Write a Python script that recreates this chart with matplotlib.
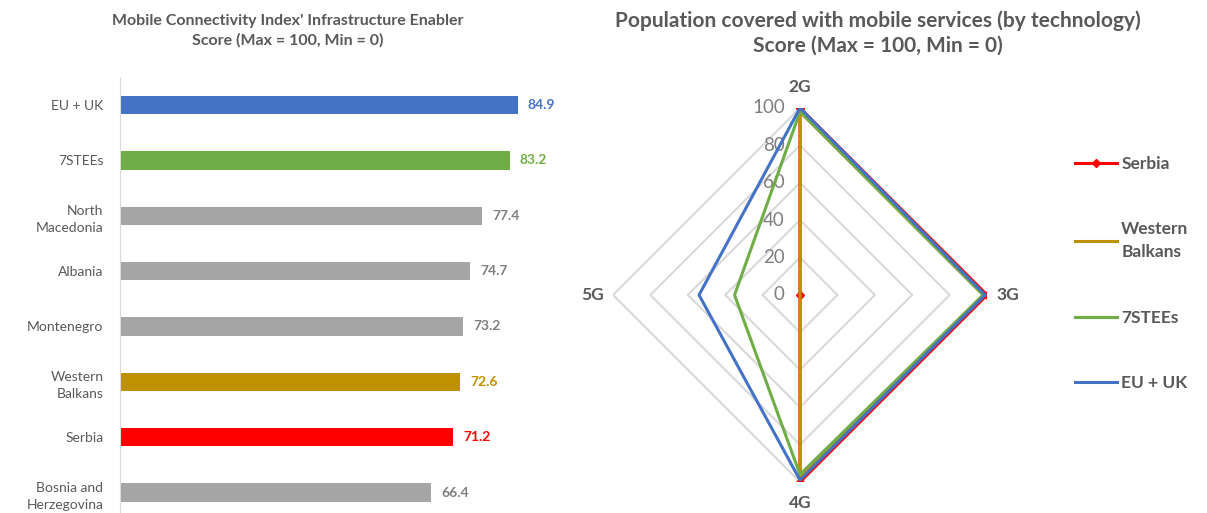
import numpy as np
import matplotlib.pyplot as plt
from matplotlib import transforms

plt.rcParams['font.family'] = ['Lato', 'DejaVu Sans']

# --- left chart data ---
countries = ['EU + UK', '7STEEs', 'North\nMacedonia', 'Albania', 'Montenegro',
             'Western\nBalkans', 'Serbia', 'Bosnia and\nHerzegovina']
scores = [84.9, 83.2, 77.4, 74.7, 73.2, 72.6, 71.2, 66.4]
bar_colors = ['#4472C4', '#70AD47', '#A5A5A5', '#A5A5A5', '#A5A5A5',
              '#BF9000', '#FF0000', '#A5A5A5']
label_colors = ['#4472C4', '#70AD47', '#7F7F7F', '#7F7F7F', '#7F7F7F',
                '#BF9000', '#FF0000', '#7F7F7F']

# --- radar data ---
techs = ['2G', '3G', '4G', '5G']
serbia = [100, 100, 100, 0]
western_balkans = [98, 98, 97, 0]
steees = [98, 98, 96, 35]
eu_uk = [100, 99, 99, 54]
series_names = ['Serbia', 'Western\nBalkans', '7STEEs', 'EU + UK']
series_colors = ['#FF0000', '#BF9000', '#70AD47', '#4472C4']
rticks = [0, 20, 40, 60, 80, 100]

TXT = '#595959'

fig = plt.figure(figsize=(12.07, 5.13), dpi=100)

# ---------------- bar chart ----------------
ax = fig.add_axes([0.0994, 0.0, 0.388, 0.848])
y = np.arange(len(countries))
ax.barh(y, scores, height=0.33, color=bar_colors)
ax.set_xlim(0, 100)
ax.set_ylim(len(countries) - 0.63, -0.49)
ax.set_yticks(y)
ax.set_yticklabels(countries, fontsize=10, color=TXT, linespacing=1.5)
ax.tick_params(axis='y', length=0, pad=12)
ax.set_xticks([])
for s in ['top', 'right', 'bottom']:
    ax.spines[s].set_visible(False)
ax.spines['left'].set_color('#D9D9D9')
for yi, v, c in zip(y, scores, label_colors):
    ax.text(v + 2.2, yi, f'{v:.1f}', va='center', ha='left', fontsize=10,
            fontweight='bold', color=c)
fig.text(0.238, 0.972, "Mobile Connectivity Index' Infrastructure Enabler\nScore (Max = 100, Min = 0)",
         ha='center', va='top', fontsize=11.5, fontweight='bold', color=TXT, linespacing=1.45)

# ---------------- radar chart ----------------
rax = fig.add_axes([0.5078, 0.0605, 0.31, 0.729], projection='polar')
rax.set_theta_zero_location('N')
rax.set_theta_direction(-1)
angles = np.arange(len(techs)) * 2 * np.pi / len(techs)
ang_closed = np.append(angles, angles[0])

rax.grid(False)
rax.spines['polar'].set_visible(False)
rax.set_ylim(0, 100)
rax.set_yticks([])
rax.set_xticks([])
for r in rticks[1:]:
    rax.plot(ang_closed, [r] * len(ang_closed), color='#D9D9D9', lw=1.5, zorder=1)

for vals, name, col in zip([serbia, western_balkans, steees, eu_uk], series_names, series_colors):
    v = np.append(vals, vals[0])
    if name == 'Serbia':
        rax.plot(ang_closed, v, color=col, lw=2.2, marker='D', ms=4.5, label=name, zorder=3)
    else:
        rax.plot(ang_closed, v, color=col, lw=2.2, label=name, zorder=3)

off = transforms.offset_copy(rax.transData, fig=fig, x=-11, y=0, units='points')
for r in rticks:
    rax.text(0, r, str(r), transform=off, ha='right', va='center', fontsize=13.5, color='#7F7F7F', zorder=2)

for a, t in zip(angles, techs):
    rax.text(a, 111, t, ha='center', va='center', fontsize=12.5, fontweight='bold', color=TXT)

fig.text(0.727, 0.98, 'Population covered with mobile services (by technology)\nScore (Max = 100, Min = 0)',
         ha='center', va='top', fontsize=15, fontweight='bold', color=TXT, linespacing=1.3)

handles, labels = rax.get_legend_handles_labels()
leg = fig.legend(handles, labels, loc='upper left', bbox_to_anchor=(0.885, 0.71), frameon=False,
                 fontsize=12.5, labelspacing=2.85, handlelength=2.4, handletextpad=0.25,
                 borderaxespad=0.0)
for t in leg.get_texts():
    t.set_color(TXT)
    t.set_fontweight('bold')
    t.set_linespacing(1.55)

fig.savefig('out.png', dpi=100)
